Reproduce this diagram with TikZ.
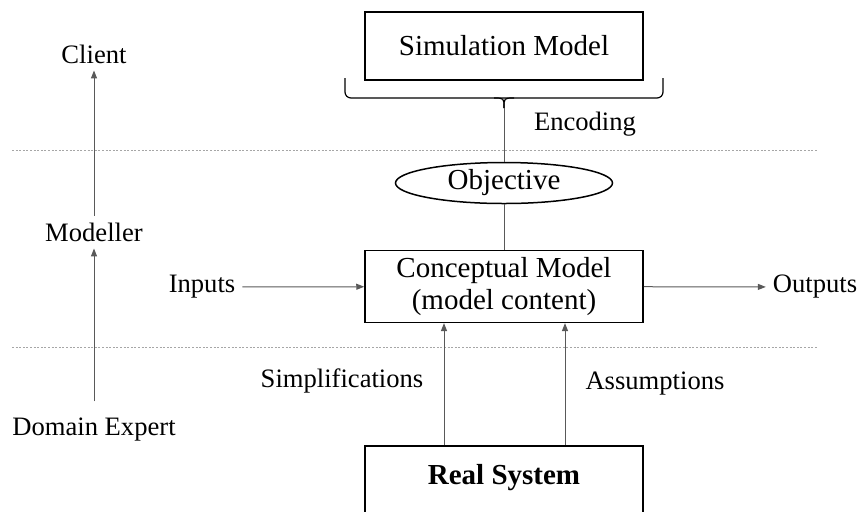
\documentclass[tikz,border=0pt]{standalone}
\usepackage{fontspec}
\setmainfont{Liberation Serif}
\usetikzlibrary{arrows.meta,shapes.geometric}

\begin{document}
\begin{tikzpicture}[x=0.5pt,y=-0.5pt,
    every node/.style={font=\fontsize{13.3}{16}\selectfont},
    big/.style={font=\fontsize{14.5}{17}\selectfont},
    box/.style={draw,big,line width=0.75pt,minimum width=139pt,minimum height=34pt,align=center},
    link/.style={draw=black!65,line width=0.5pt},
    arrow/.style={link,-{Triangle[length=4pt,width=3pt]}},
    sep/.style={draw=black!35,line width=0.5pt,dash pattern=on 1pt off 0.8pt}]
        \clip (0,0) rectangle (858,511);
        % levels
        \draw[sep] (12,150) -- (818,150);
        \draw[sep] (12,347) -- (818,347);
        % main boxes
        \node[box] (sim) at (504,46) {Simulation Model};
        \node[draw,big,line width=0.75pt,ellipse,minimum width=108.5pt,minimum height=20.5pt,inner sep=0pt] (obj) at (504,183) {Objective};
        \node[box,minimum height=34.5pt] (concept) at (504,286.5) {Conceptual Model\\[-1pt](model content)};
        \node[box,minimum height=50pt,anchor=north] (real) at (504,445) {};
        \node[font=\fontsize{14.5}{17}\selectfont\bfseries] (realtxt) at (504,478) {Real System};
        % brace under the simulation model
        \coordinate (tip) at (504,108);
        \draw[line width=0.6pt,rounded corners=3pt] (345,78) -- (345,98) -- (663,98) -- (663,78);
        \draw[line width=0.6pt] (494,98) .. controls (504,98) .. (tip);
        \draw[line width=0.6pt] (514,98) .. controls (504,98) .. (tip);
        \node (enc) at (585,124) {Encoding};
        \draw[link] (tip) -- (obj.north);
        \draw[link] (obj.south) -- (concept.north);
        % inputs and outputs
        \node (inputs) at (202,287) {Inputs};
        \node (outputs) at (815,287) {Outputs};
        \draw[arrow] (inputs) -- (concept);
        \draw[arrow] (concept) -- (outputs);
        % simplifications and assumptions
        \node (simpl) at (342,381) {Simplifications};
        \node (assum) at (655,384) {Assumptions};
        \draw[arrow] ([xshift=-30pt]real.north) -- ([xshift=-30pt]concept.south);
        \draw[arrow] ([xshift=30.5pt]real.north) -- ([xshift=30.5pt]concept.south);
        % roles
        \node (client) at (94,54) {Client};
        \node (modeller) at (94,232) {Modeller};
        \node (expert) at (94,430) {Domain Expert};
        \draw[arrow] (modeller) -- (client);
        \draw[arrow,shorten <=5pt] (expert) -- (modeller);
\end{tikzpicture}
\end{document}
